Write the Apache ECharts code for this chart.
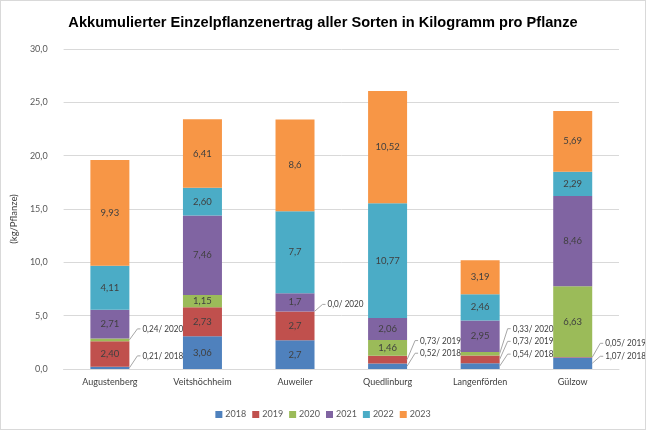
<!DOCTYPE html>
<html>
<head>
<meta charset="utf-8">
<script src="https://cdn.jsdelivr.net/npm/echarts@6/dist/echarts.min.js"></script>
<style>
    html, body { margin: 0; padding: 0; background: #fff; }
    #chart { width: 646px; height: 430px; box-sizing: border-box; border: 1px solid #d9d9d9; }
</style>
</head>
<body>
<div id="chart"></div>
<script>
// Daten (kg/Pflanze)
var standorte = ['Augustenberg', 'Veitshöchheim', 'Auweiler', 'Quedlinburg', 'Langenförden', 'Gülzow'];
var jahre = ['2018', '2019', '2020', '2021', '2022', '2023'];
var nachkomma = [2, 2, 1, 2, 2, 2];
var werte2018 = [0.21, 3.06, 2.7, 0.52, 0.54, 1.07];
var werte2019 = [2.40, 2.73, 2.7, 0.73, 0.73, 0.05];
var werte2020 = [0.24, 1.15, 0.0, 1.46, 0.33, 6.63];
var werte2021 = [2.71, 7.46, 1.7, 2.06, 2.95, 8.46];
var werte2022 = [4.11, 2.60, 7.7, 10.77, 2.46, 2.29];
var werte2023 = [9.93, 6.41, 8.6, 10.52, 3.19, 5.69];
var yTicks = [0, 5, 10, 15, 20, 25, 30];

// kleine Segmente mit Beschriftung außerhalb: [Standort-Index, Jahr-Index]
var aussenLabels = [[0, 0], [0, 2], [2, 2], [3, 0], [3, 1], [4, 0], [4, 1], [4, 2], [5, 0], [5, 1]];
// vertikaler Versatz der Beschriftung in Pixel (nur Layout)
var aussenDy = [-12, -11, -7, -13, -19, -12, -18, -25, -7, -14];

var farben = ['#4F81BD', '#C0504D', '#9BBB59', '#8064A2', '#4BACC6', '#F79646'];
var alleWerte = [werte2018, werte2019, werte2020, werte2021, werte2022, werte2023];
var BAR_W = 39;
var FONT = 'Lato, sans-serif';

function fmt(v, d) {
    return v.toFixed(d).replace('.', ',');
}

function istAussen(s, j) {
    for (var i = 0; i < aussenLabels.length; i++) {
        if (aussenLabels[i][0] === s && aussenLabels[i][1] === j) return true;
    }
    return false;
}

var serien = jahre.map(function (jahr, j) {
    return {
        name: jahr,
        type: 'bar',
        stack: 'summe',
        barWidth: BAR_W,
        itemStyle: { color: farben[j] },
        data: alleWerte[j].map(function (v, s) {
            return {
                value: v,
                label: {
                    show: !istAussen(s, j),
                    position: 'inside',
                    color: '#404040',
                    fontSize: 9.5,
                    fontFamily: FONT,
                    formatter: fmt(v, nachkomma[s])
                }
            };
        })
    };
});

// Hilfslinien + Beschriftung für kleine Segmente
var aussenDaten = aussenLabels.map(function (a, i) {
    var s = a[0], j = a[1];
    var basis = 0;
    for (var k = 0; k < j; k++) basis += alleWerte[k][s];
    return [s, basis + alleWerte[j][s] / 2, aussenDy[i]];
});
var aussenTexte = aussenLabels.map(function (a) {
    return fmt(alleWerte[a[1]][a[0]], nachkomma[a[0]]) + '/ ' + jahre[a[1]];
});

serien.push({
    type: 'custom',
    silent: true,
    clip: false,
    z: 10,
    encode: { x: 0, y: 1 },
    data: aussenDaten,
    renderItem: function (params, api) {
        var p = api.coord([api.value(0), api.value(1)]);
        var dy = api.value(2);
        var x0 = p[0] + BAR_W / 2;
        return {
            type: 'group',
            children: [{
                type: 'polyline',
                shape: { points: [[x0, p[1]], [x0 + 8, p[1] + dy], [x0 + 11, p[1] + dy]] },
                style: { stroke: '#a6a6a6', lineWidth: 1, fill: null }
            }, {
                type: 'text',
                x: x0 + 13,
                y: p[1] + dy,
                scaleX: 0.86,
                style: {
                    text: aussenTexte[params.dataIndex],
                    fill: '#404040',
                    fontSize: 9.5,
                    fontFamily: FONT,
                    align: 'left',
                    verticalAlign: 'middle'
                }
            }]
        };
    }
});

var myChart = echarts.init(document.getElementById('chart'));
myChart.setOption({
    animation: false,
    title: {
        text: 'Akkumulierter Einzelpflanzenertrag aller Sorten in Kilogramm pro Pflanze',
        left: 'center',
        top: 9,
        textStyle: { fontFamily: 'Liberation Sans, Arial, sans-serif', fontSize: 14.6, fontWeight: 'bold', color: '#000' }
    },
    legend: {
        data: jahre,
        bottom: 5,
        left: 'center',
        icon: 'rect',
        itemWidth: 7,
        itemHeight: 7,
        itemGap: 6,
        textStyle: { fontFamily: FONT, fontSize: 9, color: '#595959', padding: [0, 0, 0, -2] }
    },
    grid: { left: 49, right: 26, top: 48, bottom: 60 },
    xAxis: {
        type: 'category',
        data: standorte,
        axisLine: { lineStyle: { color: '#d9d9d9' } },
        axisTick: { show: false },
        axisLabel: { color: '#404040', fontFamily: FONT, fontSize: 9, margin: 9 }
    },
    yAxis: {
        type: 'value',
        min: yTicks[0],
        max: yTicks[yTicks.length - 1],
        interval: yTicks[1] - yTicks[0],
        name: '(kg/Pflanze)',
        nameLocation: 'middle',
        nameGap: 28,
        nameTextStyle: { color: '#404040', fontFamily: FONT, fontSize: 9.5, padding: [0, 0, 0, -20] },
        axisLine: { show: false },
        axisTick: { show: false },
        splitLine: { lineStyle: { color: '#d9d9d9' } },
        axisLabel: {
            color: '#595959', fontFamily: FONT, fontSize: 9, margin: 16,
            formatter: function (v) { return fmt(v, 1); }
        }
    },
    series: serien
});
</script>
</body>
</html>
